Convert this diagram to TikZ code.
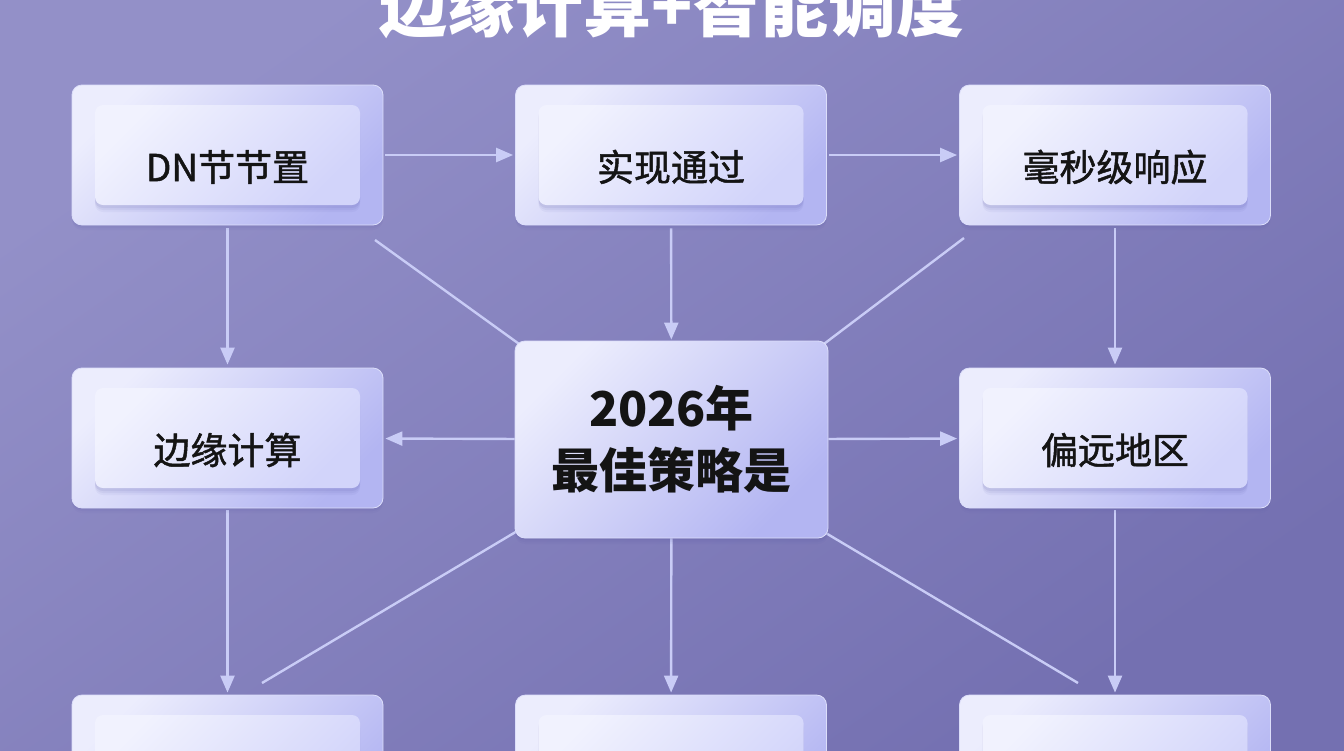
\documentclass[tikz,border=0pt]{standalone}
\usepackage{fontspec}
\setmainfont{Noto Sans CJK SC}
\newfontfamily\midfont[FakeBold=1.3]{Noto Sans CJK SC}
\usetikzlibrary{arrows.meta,shadows}
\definecolor{bgA}{HTML}{9390C8}
\definecolor{bgB}{HTML}{7470B1}
\definecolor{connc}{HTML}{C9CCF6}
\definecolor{outA}{HTML}{ECEDFD}
\definecolor{outB}{HTML}{B3B5F2}
\definecolor{outEdge}{HTML}{DCDEFA}
\definecolor{inA}{HTML}{F1F2FE}
\definecolor{inB}{HTML}{D2D4FA}
\definecolor{shadc}{HTML}{5A58A8}
\definecolor{txt}{HTML}{141414}
\pgfdeclarelayer{back}
\pgfdeclarelayer{lines}
\pgfsetlayers{back,lines,main}
\begin{document}
\begin{tikzpicture}[x=1pt,y=-1pt,
  softshadow/.style={
    preaction={draw=none,fill=shadc,fill opacity=0.06,transform canvas={yshift=-#1-3pt}},
    preaction={draw=none,fill=shadc,fill opacity=0.08,transform canvas={yshift=-#1-1pt}},
    preaction={draw=none,fill=shadc,fill opacity=0.10,transform canvas={yshift=-#1+1pt}}},
  outerbox/.style={minimum width=311pt,minimum height=140pt,rounded corners=10pt,
    softshadow=2pt,
    top color=outA,bottom color=outB,shading angle=45,draw=outEdge,line width=0.8pt,inner sep=0pt},
  innerbox/.style={minimum width=265pt,minimum height=100pt,rounded corners=8pt,
    softshadow=4pt,
    top color=inA,bottom color=inB,shading angle=45,inner sep=0pt},
  centerbox/.style={minimum width=313pt,minimum height=197pt,rounded corners=10pt,
    softshadow=3pt,
    top color=outA,bottom color=outB,shading angle=45,draw=outEdge,line width=0.8pt,inner sep=0pt,
    align=center,text=txt,font=\fontsize{48}{62}\selectfont\bfseries},
  boxtext/.style={text=txt,font=\midfont\fontsize{37}{44}\selectfont,inner sep=0pt},
  titletext/.style={text=white,font=\fontsize{68}{80}\selectfont\bfseries,inner sep=0pt},
  conn/.style={draw=connc,line width=2.4pt},
  arr/.style={conn,-{Triangle[width=14pt,length=17pt]}}
]
\useasboundingbox (0,0) rectangle (1344,750);
\begin{pgfonlayer}{back}
  \shade[top color=bgA,bottom color=bgB,shading angle=35] (0,0) rectangle (1344,750);
\end{pgfonlayer}

% title
\node[titletext,anchor=base] (ttl) at (672,31) {边缘计算+智能调度};

% outer boxes
\node[outerbox] (dn) at (227.5,155) {};
\node[outerbox] (mt) at (671,155) {};
\node[outerbox] (ms) at (1115,155) {};
\node[outerbox] (el) at (227.5,438) {};
\node[outerbox] (pr) at (1115,438) {};
\node[outerbox] (bl) at (227.5,765) {};
\node[outerbox] (bm) at (671,765) {};
\node[outerbox] (br) at (1115,765) {};

% inner boxes
\node[innerbox] (dni) at (dn) {};
\node[innerbox] (mti) at (mt) {};
\node[innerbox] (msi) at (ms) {};
\node[innerbox] (eli) at (el) {};
\node[innerbox] (pri) at (pr) {};
\node[innerbox] (bli) at (bl) {};
\node[innerbox] (bmi) at (bm) {};
\node[innerbox] (bri) at (br) {};

% texts
\node[boxtext,yshift=-12pt] (dnt) at (dn) {DN节节置};
\node[boxtext,yshift=-12pt] (mtt) at (mt) {实现通过};
\node[boxtext,yshift=-12pt] (mst) at (ms) {毫秒级响应};
\node[boxtext,yshift=-12pt] (elt) at (el) {边缘计算};
\node[boxtext,yshift=-12pt] (prt) at (pr) {偏远地区};

% center
\node[centerbox] (ctr) at (671.5,439.5) {2026年\\最佳策略是};

% free ends of the plain diagonal lines
\coordinate (d1) at (375,240);
\coordinate (d2) at (964,238);
\coordinate (d3) at (262,683);
\coordinate (d4) at (1078,683);

\begin{pgfonlayer}{lines}
  \draw[arr,shorten <=2pt,shorten >=2pt] (dn) -- (mt);
  \draw[arr,shorten <=2pt,shorten >=2pt] (mt) -- (ms);
  \draw[arr,shorten <=3pt,shorten >=3pt] (dn) -- (el);
  \draw[arr,shorten <=3pt,shorten >=1pt] (mt) -- (ctr);
  \draw[arr,shorten <=3pt,shorten >=3pt] (ms) -- (pr);
  \draw[arr,shorten >=2pt] (ctr) -- (el);
  \draw[arr,shorten >=2pt] (ctr) -- (pr);
  \draw[arr,shorten <=2pt,shorten >=2pt] (el) -- (bl);
  \draw[arr,shorten >=2pt] (ctr) -- (bm);
  \draw[arr,shorten <=2pt,shorten >=2pt] (pr) -- (br);
  \draw[conn] (d1) -- ([shift={(4,3)}]ctr.north west);
  \draw[conn] (d2) -- ([shift={(-4,3)}]ctr.north east);
  \draw[conn] ([shift={(2,-7)}]ctr.south west) -- (d3);
  \draw[conn] ([shift={(-2,-5)}]ctr.south east) -- (d4);
\end{pgfonlayer}
\end{tikzpicture}
\end{document}
